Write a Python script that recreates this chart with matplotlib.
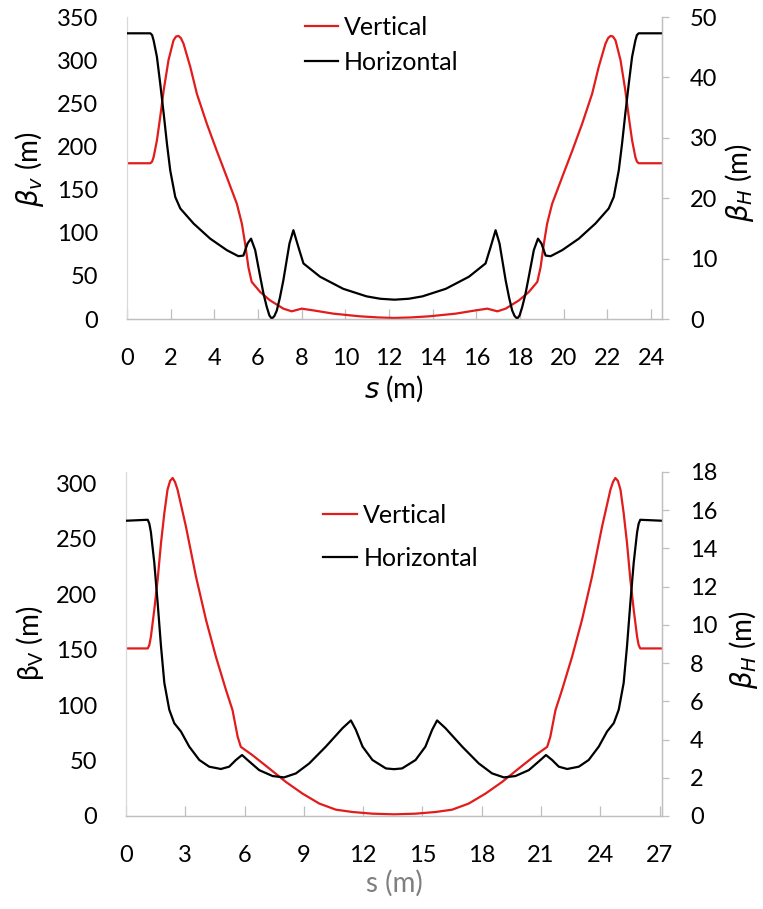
import matplotlib
matplotlib.use('Agg')
import matplotlib.pyplot as plt

plt.rcParams['font.family'] = ['Lato', 'DejaVu Sans']
plt.rcParams['mathtext.fontset'] = 'dejavusans'

# ---- top lattice (24.5 m) ----
s_top_v = [0, 1.07, 1.15, 1.22, 1.37, 1.52, 1.68, 1.9, 2.13, 2.25, 2.36, 2.47, 2.59, 2.9, 3.2, 3.66,
           4.11, 4.57, 5.03, 5.26, 5.41, 5.56, 5.71, 6.1, 6.55, 7.16, 7.54, 8.0, 8.53, 9.45, 10.67,
           11.5, 12.25, 13.0, 13.83, 15.05, 15.97, 16.5, 16.96, 17.34, 17.95, 18.4, 18.79, 18.94,
           19.09, 19.24, 19.47, 19.93, 20.39, 20.84, 21.3, 21.6, 21.91, 22.03, 22.14, 22.25, 22.37,
           22.6, 22.82, 22.98, 23.13, 23.28, 23.35, 23.43, 24.5]
beta_top_v = [180.5, 180.5, 182.5, 187.7, 207, 234, 265, 300, 323, 327.5, 328, 325.5, 319, 292, 261, 226,
              195, 164.5, 133.6, 110.5, 87.3, 60, 43, 31.3, 21.6, 12, 8.9, 12, 10, 6.2, 3.1,
              1.8, 1.2, 1.8, 3.1, 6.2, 10, 12, 8.9, 12, 21.6, 31.3, 43, 60,
              87.3, 110.5, 133.6, 164.5, 195, 226, 261, 292, 319, 325.5, 328, 327.5, 323,
              300, 265, 234, 207, 187.7, 182.5, 180.5, 180.5]
s_top_h = [0, 1.07, 1.15, 1.22, 1.37, 1.52, 1.68, 1.83, 1.98, 2.21, 2.44, 3.05, 3.81, 4.57, 5.1, 5.33,
           5.52, 5.68, 5.87, 6.1, 6.25, 6.4, 6.52, 6.63, 6.75, 6.86, 7.0, 7.16, 7.44, 7.62, 7.85,
           8.08, 8.84, 9.9, 10.97, 11.6, 12.25, 12.9, 13.53, 14.6, 15.66, 16.42, 16.65, 16.88,
           17.06, 17.34, 17.5, 17.64, 17.75, 17.87, 17.98, 18.1, 18.25, 18.4, 18.63, 18.82, 18.98,
           19.17, 19.4, 19.93, 20.69, 21.45, 22.06, 22.29, 22.52, 22.67, 22.82, 22.98, 23.13,
           23.28, 23.35, 23.43, 24.5]
beta_top_h = [47.3, 47.3, 47.0, 46.1, 43.4, 39, 34, 29, 24.6, 20.2, 18.3, 15.8, 13.3, 11.4, 10.4, 10.5,
              12.5, 13.3, 11.4, 7, 4.2, 2, 0.6, 0.05, 0.5, 1.4, 3.5, 6.4, 12.5, 14.7, 11.9,
              9.2, 7, 5, 3.75, 3.35, 3.2, 3.35, 3.75, 5, 7, 9.2, 11.9, 14.7,
              12.5, 6.4, 3.5, 1.4, 0.5, 0.05, 0.6, 2, 4.2, 7, 11.4, 13.3, 12.5,
              10.5, 10.4, 11.4, 13.3, 15.8, 18.3, 20.2, 24.6, 29, 34, 39, 43.4,
              46.1, 47.0, 47.3, 47.3]

# ---- bottom lattice (27.1 m) ----
s_bot_v = [0, 1.1, 1.18, 1.26, 1.43, 1.6, 1.77, 1.94, 2.1, 2.23, 2.36, 2.48, 2.61, 3.03, 3.54, 4.05,
           4.55, 5.06, 5.39, 5.65, 5.81, 6.4, 7.25, 8.09, 8.93, 9.78, 10.62, 11.46, 12.47, 13.56,
           14.65, 15.66, 16.5, 17.34, 18.19, 19.03, 19.87, 20.72, 21.31, 21.47, 21.73, 22.06,
           22.57, 23.07, 23.58, 24.09, 24.51, 24.64, 24.76, 24.89, 25.02, 25.18, 25.35, 25.52,
           25.69, 25.86, 25.94, 26.02, 27.12]
beta_bot_v = [151, 151, 154, 161.6, 185.7, 212.8, 245.9, 273, 294, 302, 304.6, 301, 294, 261, 215.8, 176.6,
              143.5, 113.5, 95.4, 71.4, 62.3, 54.8, 42.8, 30.7, 20.2, 11.2, 5.7, 3.6, 2.1, 1.5,
              2.1, 3.6, 5.7, 11.2, 20.2, 30.7, 42.8, 54.8, 62.3, 71.4, 95.4, 113.5,
              143.5, 176.6, 215.8, 261, 294, 301, 304.6, 302, 294, 273, 245.9, 212.8,
              185.7, 161.6, 154, 151, 151]
s_bot_h = [0, 1.1, 1.18, 1.26, 1.43, 1.6, 1.77, 1.94, 2.19, 2.44, 2.78, 3.2, 3.71, 4.21, 4.8, 5.22,
           5.56, 5.87, 6.15, 6.74, 7.42, 8.0, 8.6, 9.27, 10.11, 10.96, 11.38, 11.63, 11.97, 12.47,
           13.15, 13.56, 13.97, 14.65, 15.15, 15.49, 15.74, 16.16, 17.01, 17.85, 18.52, 19.12,
           19.7, 20.38, 20.97, 21.25, 21.56, 21.9, 22.32, 22.91, 23.41, 23.92, 24.34, 24.68,
           24.93, 25.18, 25.35, 25.52, 25.69, 25.86, 25.94, 26.02, 27.12]
beta_bot_h = [15.45, 15.5, 15.3, 14.85, 13.27, 11.17, 8.89, 6.96, 5.56, 4.86, 4.42, 3.63, 2.93, 2.58, 2.46, 2.58,
              2.93, 3.19, 2.93, 2.4, 2.09, 2.02, 2.23, 2.75, 3.63, 4.6, 5.0, 4.51, 3.63, 2.93,
              2.49, 2.45, 2.49, 2.93, 3.63, 4.51, 5.0, 4.6, 3.63, 2.75, 2.23, 2.02,
              2.09, 2.4, 2.93, 3.19, 2.93, 2.58, 2.46, 2.58, 2.93, 3.63, 4.42, 4.86,
              5.56, 6.96, 8.89, 11.17, 13.27, 14.85, 15.3, 15.5, 15.45]

top_xticks = list(range(0, 25, 2))
bot_xticks = list(range(0, 28, 3))
top_left_ticks = list(range(0, 351, 50))
top_right_ticks = list(range(0, 51, 10))
bot_left_ticks = list(range(0, 301, 50))
bot_right_ticks = list(range(0, 19, 2))

W, H = 763, 909
RED = '#e21b1b'
GRID = '#bfbfbf'
FS = 17

fig = plt.figure(figsize=(W / 100, H / 100), dpi=100)


def add_ax(l, t, r, b):
    return fig.add_axes([l / W, 1 - b / H, (r - l) / W, (b - t) / H])


def panel(ax, sv, bv, sh, bh, xmax, xticks, ylmax, ylticks, yrmax, yrticks):
    ax2 = ax.twinx()
    l1, = ax.plot(sv, bv, color=RED, lw=1.6, label='Vertical')
    l2, = ax2.plot(sh, bh, color='black', lw=1.6, label='Horizontal')
    ax.set_xlim(0, xmax)
    ax.set_ylim(0, ylmax)
    ax2.set_ylim(0, yrmax)
    ax.set_xticks(xticks)
    ax.set_yticks(ylticks)
    ax2.set_yticks(yrticks)
    for a in (ax, ax2):
        a.spines['top'].set_visible(False)
        for sp in a.spines.values():
            sp.set_color(GRID)
            sp.set_linewidth(0.9)
    ax.spines['left'].set_color('#d9d9d9')
    ax2.spines['left'].set_visible(False)
    ax.tick_params(axis='x', direction='in', length=7, width=0.9, color=GRID,
                   labelsize=FS, pad=21, labelcolor='black')
    ax.tick_params(axis='y', length=0, labelsize=FS, pad=21)
    ax2.tick_params(axis='y', direction='out', length=5, width=0.9, color=GRID,
                    labelsize=FS, pad=15)
    return ax2, [l1, l2]


# top panel
ax = add_ax(127, 17, 662, 319)
ax2, handles = panel(ax, s_top_v, beta_top_v, s_top_h, beta_top_h, 24.5, top_xticks,
                     350, top_left_ticks, 50, top_right_ticks)
ax.legend(handles=handles, loc='upper left', bbox_to_anchor=(305 / W, 1 - 16 / H),
          bbox_transform=fig.transFigure, frameon=False, fontsize=18, borderpad=0,
          borderaxespad=0, handlelength=1.3, handletextpad=0.25, labelspacing=0.46)
fig.text(30 / W, 1 - 169 / H, r'$\beta_v$ (m)', rotation=90, ha='center', va='center', fontsize=20)
fig.text(739 / W, 1 - 183 / H, r'$\beta_H$ (m)', rotation=90, ha='center', va='center', fontsize=20)
fig.text(394 / W, 1 - 389 / H, r'$s$ (m)', ha='center', va='center', fontsize=20)

# bottom panel
bx = add_ax(126, 472, 662, 816)
bx2, handles = panel(bx, s_bot_v, beta_bot_v, s_bot_h, beta_bot_h, 27.12, bot_xticks,
                     310, bot_left_ticks, 18, bot_right_ticks)
bx.legend(handles=handles, loc='upper left', bbox_to_anchor=(323 / W, 1 - 504 / H),
          bbox_transform=fig.transFigure, frameon=False, fontsize=18, borderpad=0,
          borderaxespad=0, handlelength=1.36, handletextpad=0.25, labelspacing=0.8)
fig.text(30 / W, 1 - 643 / H, r'β$_\mathregular{V}$ (m)', rotation=90, ha='center', va='center', fontsize=20)
fig.text(743 / W, 1 - 650 / H, r'$\beta_H$ (m)', rotation=90, ha='center', va='center', fontsize=20)
fig.text(394 / W, 1 - 883 / H, 's (m)', ha='center', va='center', fontsize=20, color='#7f7f7f')

fig.savefig('out.png', dpi=100)
